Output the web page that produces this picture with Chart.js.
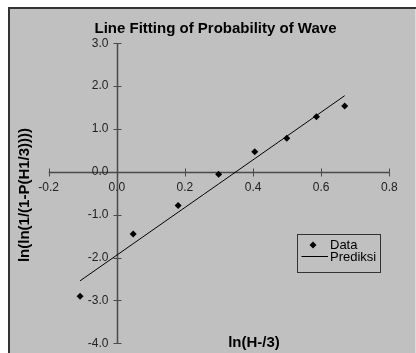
<!DOCTYPE html>
<html>
<head>
<meta charset="utf-8">
<script src="https://cdn.jsdelivr.net/npm/chart.js@4/dist/chart.umd.min.js"></script>
<style>
  html, body { margin: 0; padding: 0; background: #fff; }
  #wrap { width: 416px; height: 353px; }
</style>
</head>
<body>
<div id="wrap"><canvas id="waveChart" width="416" height="353"></canvas></div>
<script>
// data
var dataX = [-0.108, 0.048, 0.180, 0.299, 0.405, 0.499, 0.586, 0.669];
var dataY = [-2.90, -1.45, -0.785, -0.054, 0.467, 0.787, 1.285, 1.535];
var prediksiY = [-2.543, -1.676, -0.942, -0.281, 0.309, 0.831, 1.315, 1.777];
var xTicks = [-0.2, 0, 0.2, 0.4, 0.6, 0.8];
var yTicks = [3, 2, 1, 0, -1, -2, -3, -4];

var chartTitle = 'Line Fitting of Probability of Wave';
var xTitle = 'ln(H-/3)';
var yTitle = 'ln(ln(1/(1-P(H1/3))))';

function toPoints(xs, ys) {
    return xs.map(function(x, i) { return { x: x, y: ys[i] }; });
}

// background, frame, axes through zero, labels and legend
var excelLook = {
    id: 'excelLook',
    beforeDraw: function(chart) {
        var c = chart.ctx;
        c.save();
        c.fillStyle = '#c0c0c0';
        c.fillRect(10, 9, 406, 344);
        c.fillStyle = '#333';
        c.fillRect(8, 7, 408, 2);
        c.fillRect(8, 7, 2, 346);
        c.fillStyle = '#dcdcdc';
        c.fillRect(415, 9, 1, 344);
        c.restore();
    },
    beforeDatasetsDraw: function(chart) {
        var c = chart.ctx;
        var xs = chart.scales.x, ys = chart.scales.y;
        var x0 = Math.round(xs.getPixelForValue(0)) + 0.5;
        var y0 = Math.round(ys.getPixelForValue(0)) + 0.5;
        c.save();
        c.strokeStyle = '#4a4a4a';
        c.lineWidth = 1.5;
        c.beginPath();
        c.moveTo(xs.getPixelForValue(-0.2), y0);
        c.lineTo(xs.getPixelForValue(0.8), y0);
        c.moveTo(x0, ys.getPixelForValue(3));
        c.lineTo(x0, ys.getPixelForValue(-4));
        c.stroke();

        c.lineWidth = 1;
        c.beginPath();
        xTicks.forEach(function(v) {
            var px = Math.round(xs.getPixelForValue(v)) + 0.5;
            c.moveTo(px, y0 - 4);
            c.lineTo(px, y0 + 4);
        });
        yTicks.forEach(function(v) {
            var py = Math.round(ys.getPixelForValue(v)) + 0.5;
            c.moveTo(x0 - 4, py);
            c.lineTo(x0 + 4, py);
        });
        c.stroke();

        c.fillStyle = '#222';
        c.font = '12px "Liberation Sans", Arial, sans-serif';
        c.textAlign = 'center';
        c.textBaseline = 'middle';
        xTicks.forEach(function(v) {
            c.fillText(v.toFixed(1), xs.getPixelForValue(v), y0 + 15);
        });
        c.textAlign = 'right';
        yTicks.forEach(function(v) {
            c.fillText(v.toFixed(1), x0 - 9, ys.getPixelForValue(v));
        });

        c.fillStyle = '#000';
        c.font = 'bold 15px "Liberation Sans", Arial, sans-serif';
        c.textAlign = 'center';
        c.fillText(chartTitle, 215.5, 29);
        c.fillText(xTitle, 254, 343);
        c.translate(25, 195);
        c.rotate(-Math.PI / 2);
        c.fillText(yTitle, 0, 0);
        c.restore();
    },
    afterDraw: function(chart) {
        var c = chart.ctx;
        c.save();
        c.fillStyle = '#c0c0c0';
        c.fillRect(297, 234, 83, 39);
        c.strokeStyle = '#333';
        c.lineWidth = 1;
        c.strokeRect(297.5, 234.5, 83, 38);

        c.fillStyle = '#000';
        c.beginPath();
        c.moveTo(313, 241.5);
        c.lineTo(316.5, 245);
        c.lineTo(313, 248.5);
        c.lineTo(309.5, 245);
        c.closePath();
        c.fill();

        c.strokeStyle = '#000';
        c.beginPath();
        c.moveTo(301.5, 256.5);
        c.lineTo(328, 256.5);
        c.stroke();

        c.font = '13px "Liberation Sans", Arial, sans-serif';
        c.textAlign = 'left';
        c.textBaseline = 'middle';
        c.fillText(chart.data.datasets[0].label, 330, 245);
        c.fillText(chart.data.datasets[1].label, 330, 257);
        c.restore();
    }
};

var ctx = document.getElementById('waveChart').getContext('2d');
var waveChart = new Chart(ctx, {
    type: 'scatter',
    data: {
        datasets: [{
            label: 'Data',
            data: toPoints(dataX, dataY),
            pointStyle: 'rectRot',
            pointRadius: 3.5,
            backgroundColor: '#000',
            borderColor: '#000',
            borderWidth: 0,
            showLine: false
        }, {
            label: 'Prediksi',
            data: toPoints(dataX, prediksiY),
            showLine: true,
            borderColor: '#000',
            borderWidth: 1,
            pointRadius: 0,
            fill: false
        }]
    },
    options: {
        responsive: false,
        animation: false,
        events: [],
        layout: {
            padding: { left: 48.7, right: 26.7, top: 43.3, bottom: 9.7 }
        },
        plugins: {
            legend: { display: false },
            title: { display: false },
            tooltip: { enabled: false }
        },
        scales: {
            x: { type: 'linear', min: -0.2, max: 0.8, display: false },
            y: { type: 'linear', min: -4, max: 3, display: false }
        }
    },
    plugins: [excelLook]
});
</script>
</body>
</html>
